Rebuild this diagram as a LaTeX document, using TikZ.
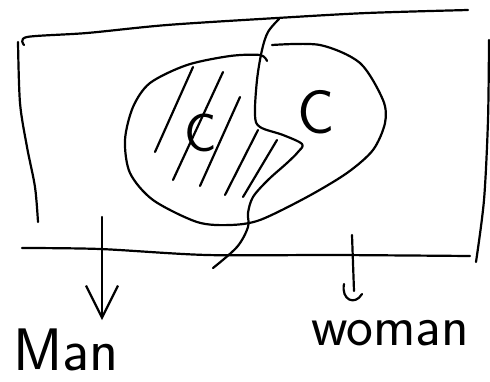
\documentclass[tikz,border=0pt]{standalone}
\usepackage{tikz}
\usetikzlibrary{arrows.meta, positioning, calc}

\begin{document}
\begin{tikzpicture}[
    x=1pt, y=-1pt,
    pen/.style={line width=2.2pt, line cap=round, line join=round},
    hatch/.style={pen},
    letter/.style={inner sep=0pt, font=\sffamily\fontsize{#1}{#1}\selectfont},
    arrow/.style={pen, -{Straight Barb[length=32pt, width=32pt, line width=2.2pt]}}
]
\useasboundingbox (0,0) rectangle (490,381);

% Frame
\draw [pen] plot[smooth] coordinates {(24,45) (27,37) (87,33) (167,25) (277,18) (367,13) (468,10)};
\draw [pen] plot[smooth] coordinates {(18,42) (20,103) (27,147) (35,187) (38,222)};
\draw [pen] plot[smooth] coordinates {(489,40) (488,120) (484,200) (476,262)};
\draw [pen] plot[smooth] coordinates {(22,248) (100,249) (207,255) (333,255) (470,256)};

% Blob
\draw [pen] plot[smooth] coordinates {(272,45) (320,45) (360,63) (383,100) (385,123) (373,150) (347,173) (307,197) (260,220) (230,225) (197,222) (153,200) (130,173) (125,140) (133,107) (150,83) (187,65) (230,56) (260,55) (267,61)};

% Divider
\draw [pen] plot[smooth, tension=0.55] coordinates {(279,19) (268,32) (262,50) (257,80) (255,115) (260,127) (283,135) (302,144) (298,152) (287,163) (268,180) (253,197) (248,213) (248,227) (237,247) (213,268)};

% Hatching
\draw [hatch] (193,67) -- (155,152);
\draw [hatch] (223,72) -- (173,180);
\draw [hatch] (240,97) -- (200,186);
\draw [hatch] (258,130) -- (225,195);
\draw [hatch] (277,140) -- (243,197);

% Nodes
\node (cLeft) [letter=54] at (201,133) {C};
\node (cRight) [letter=62] at (316,112) {C};
\node (man) [letter=60] at (66,350) {Man};
\node (woman) [letter=57] at (390,333) {woman};

\coordinate (manTop) at (102,217);
\coordinate (womanTop) at (352,235);

% Paths
\draw [arrow] (manTop) -- (manTop |- 0,320);
\draw [pen] (womanTop) -- (354,291);
\draw [pen] (344,284) .. controls (341,300) and (355,306) .. (362,294);

\end{tikzpicture}
\end{document}
